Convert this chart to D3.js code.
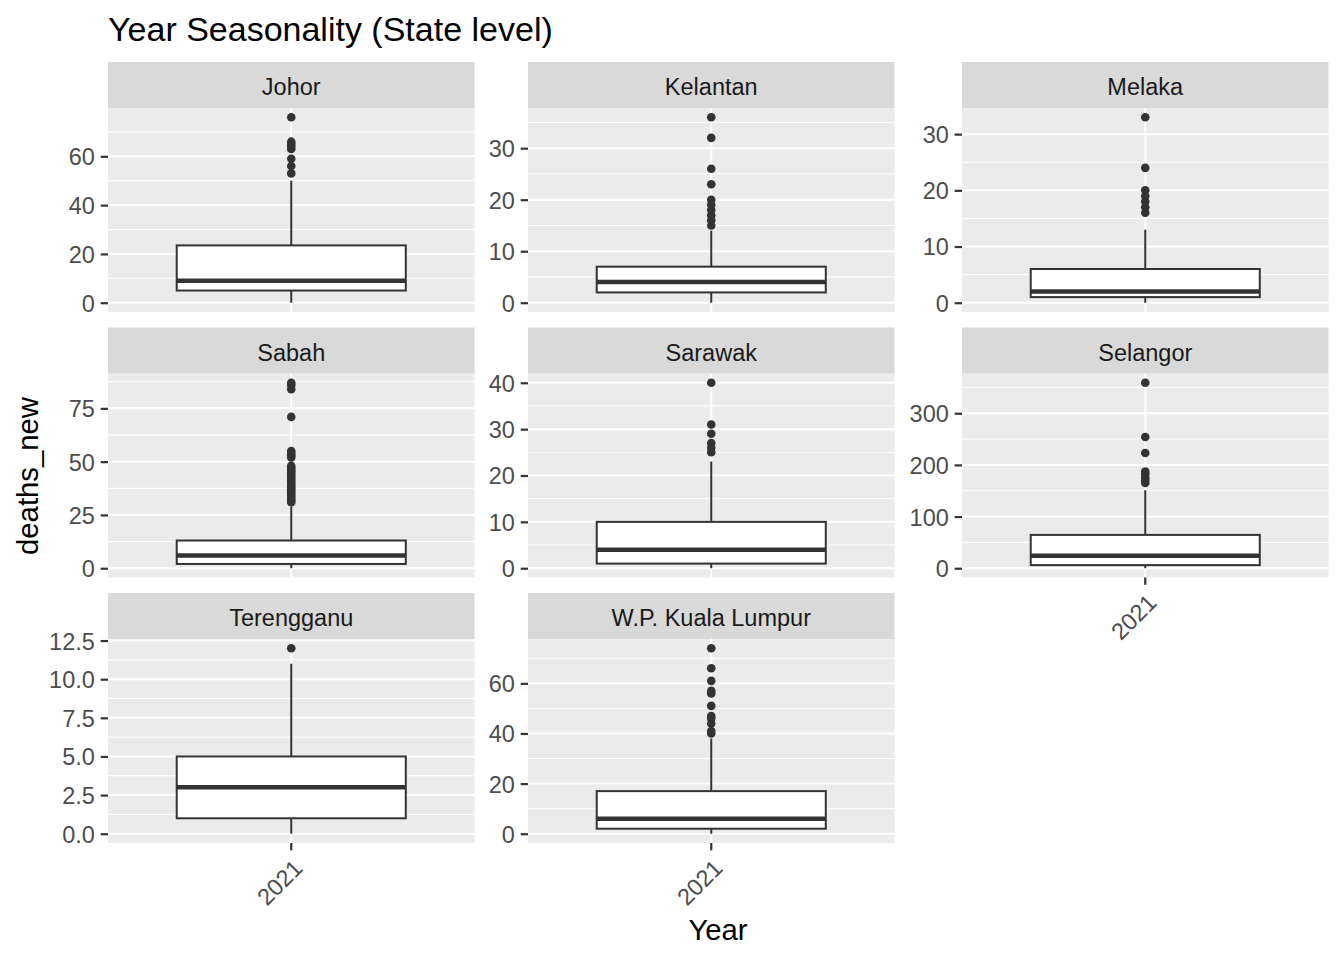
<!DOCTYPE html>
<html>
<head>
<meta charset="utf-8">
<script src="https://cdn.jsdelivr.net/npm/d3@7"></script>
<style>
  html, body { margin: 0; padding: 0; background: #ffffff; }
  svg { display: block; font-family: "Liberation Sans", Arial, sans-serif; }
</style>
</head>
<body>
<svg id="chart" width="1344" height="960"></svg>
<script>
// ---- data ----
const states = ["Johor", "Kelantan", "Melaka", "Sabah", "Sarawak", "Selangor", "Terengganu", "W.P. Kuala Lumpur"];
const years = ["2021"];
const q1 = [5, 2, 1, 2, 1, 6, 1, 2];
const median = [9, 4, 2, 6, 4, 24, 3, 6];
const q3 = [23.5, 7, 6, 13, 10, 64.5, 5, 17];
const whiskerLow = [0, 0, 0, 0, 0, 0, 0, 0];
const whiskerHigh = [50, 14, 13, 29, 23, 151, 11, 38];
const outliers = [
  [53, 56, 59, 63, 64, 65, 66, 76],
  [15, 16, 17, 18, 19, 20, 23, 26, 32, 36],
  [16, 17, 18, 19, 20, 24, 33],
  [31, 32, 33, 34, 35, 36, 37, 38, 39, 40, 41, 42, 43, 44, 45, 46, 47, 48, 52, 53, 54, 55, 71, 84, 86, 87],
  [25, 26, 27, 29, 31, 40],
  [165, 170, 175, 182, 187, 223, 254, 359],
  [12],
  [40, 41, 44, 46, 47, 51, 56, 57, 61, 66, 74]
];
const yTicks = [
  [0, 20, 40, 60],
  [0, 10, 20, 30],
  [0, 10, 20, 30],
  [0, 25, 50, 75],
  [0, 10, 20, 30, 40],
  [0, 100, 200, 300],
  [0, 2.5, 5, 7.5, 10, 12.5],
  [0, 20, 40, 60]
];
const yTickDecimals = [0, 0, 0, 0, 0, 0, 1, 0];
const titleText = "Year Seasonality (State level)";
const xTitle = "Year";
const yTitle = "deaths_new";

// ---- layout ----
const svg = d3.select("#chart");
const colLeft = [108, 528, 962];
const panelW = 366.5;
const stripTop = [62, 327.5, 593];
const stripH = 46;
const panelH = 204;
const xAxisPanels = new Set(["Selangor", "Terengganu", "W.P. Kuala Lumpur"]);

svg.append("text")
  .attr("x", 108).attr("y", 41)
  .attr("font-size", 34).attr("fill", "#000")
  .text(titleText);

states.forEach((st, i) => {
  const col = i % 3, row = Math.floor(i / 3);
  const px = colLeft[col];
  const sy = stripTop[row];
  const py = sy + stripH;
  const g = svg.append("g").attr("transform", `translate(${px},${py})`);

  // strip
  svg.append("rect").attr("x", px).attr("y", sy).attr("width", panelW).attr("height", stripH).attr("fill", "#D9D9D9");
  svg.append("text").attr("x", px + panelW / 2).attr("y", sy + 33)
    .attr("text-anchor", "middle").attr("font-size", 23.5).attr("fill", "#1A1A1A").text(st);

  // scales
  const vals = [whiskerLow[i], whiskerHigh[i], q1[i], q3[i], ...outliers[i]];
  const lo = d3.min(vals), hi = d3.max(vals);
  const pad = (hi - lo) * 0.05;
  const y = d3.scaleLinear().domain([lo - pad, hi + pad]).range([panelH, 0]);
  const x = d3.scaleBand().domain(years).range([0, panelW]).paddingOuter(0.3).paddingInner(0);
  const cx = x("2021") + x.bandwidth() / 2;

  // background
  g.append("rect").attr("width", panelW).attr("height", panelH).attr("fill", "#EBEBEB");

  // minor grid
  const t = yTicks[i];
  const step = t[1] - t[0];
  const minor = [];
  for (let v = t[0] - step / 2; v <= hi + pad; v += step) {
    if (v >= lo - pad) minor.push(v);
  }
  g.selectAll(".minor").data(minor).enter().append("line")
    .attr("x1", 0).attr("x2", panelW)
    .attr("y1", d => y(d)).attr("y2", d => y(d))
    .attr("stroke", "#fff").attr("stroke-width", 1);
  // major grid
  g.selectAll(".major").data(t).enter().append("line")
    .attr("x1", 0).attr("x2", panelW)
    .attr("y1", d => y(d)).attr("y2", d => y(d))
    .attr("stroke", "#fff").attr("stroke-width", 2);
  g.append("line").attr("x1", cx).attr("x2", cx).attr("y1", 0).attr("y2", panelH)
    .attr("stroke", "#fff").attr("stroke-width", 2);

  // y axis
  const fmt = d3.format(yTickDecimals[i] ? ".1f" : "d");
  const yAxis = d3.axisLeft(y).tickValues(t).tickSize(7.3).tickPadding(5.9).tickFormat(fmt);
  const ya = g.append("g").call(yAxis);
  ya.select(".domain").remove();
  ya.selectAll(".tick line").attr("stroke", "#333333").attr("stroke-width", 2.2);
  ya.selectAll(".tick text").attr("fill", "#4D4D4D").attr("font-size", 23.5)
    .attr("font-family", "'Liberation Sans', Arial, sans-serif")
    .attr("dy", "0.36em");

  // box
  const bw = x.bandwidth();
  const bx = x("2021");
  g.append("line").attr("x1", cx).attr("x2", cx).attr("y1", y(q3[i])).attr("y2", y(whiskerHigh[i]))
    .attr("stroke", "#333333").attr("stroke-width", 2);
  g.append("line").attr("x1", cx).attr("x2", cx).attr("y1", y(q1[i])).attr("y2", y(whiskerLow[i]))
    .attr("stroke", "#333333").attr("stroke-width", 2);
  g.append("rect").attr("x", bx).attr("width", bw)
    .attr("y", y(q3[i])).attr("height", y(q1[i]) - y(q3[i]))
    .attr("fill", "#fff").attr("stroke", "#333333").attr("stroke-width", 2);
  g.append("line").attr("x1", bx).attr("x2", bx + bw).attr("y1", y(median[i])).attr("y2", y(median[i]))
    .attr("stroke", "#333333").attr("stroke-width", 4.5);

  // outliers
  g.selectAll(".out").data(outliers[i]).enter().append("circle")
    .attr("cx", cx).attr("cy", d => y(d)).attr("r", 4.3).attr("fill", "#333333");

  // x axis
  if (xAxisPanels.has(st)) {
    const xAxis = d3.axisBottom(x).tickSize(7.3).tickPadding(0);
    const xa = g.append("g").attr("transform", `translate(0,${panelH})`).call(xAxis);
    xa.select(".domain").remove();
    xa.selectAll(".tick line").attr("stroke", "#333333").attr("stroke-width", 2.2);
    xa.selectAll(".tick text")
      .attr("fill", "#4D4D4D").attr("font-size", 23.5)
      .attr("font-family", "'Liberation Sans', Arial, sans-serif")
      .attr("text-anchor", "end")
      .attr("y", 0).attr("dy", "0.71em")
      .attr("transform", "translate(1,15) rotate(-45)");
  }
});

// axis titles
svg.append("text").attr("x", 718).attr("y", 940).attr("text-anchor", "middle")
  .attr("font-size", 29.3).attr("fill", "#000").text(xTitle);
svg.append("text").attr("transform", "translate(38,476) rotate(-90)").attr("text-anchor", "middle")
  .attr("font-size", 29.3).attr("fill", "#000").text(yTitle);
</script>
</body>
</html>
